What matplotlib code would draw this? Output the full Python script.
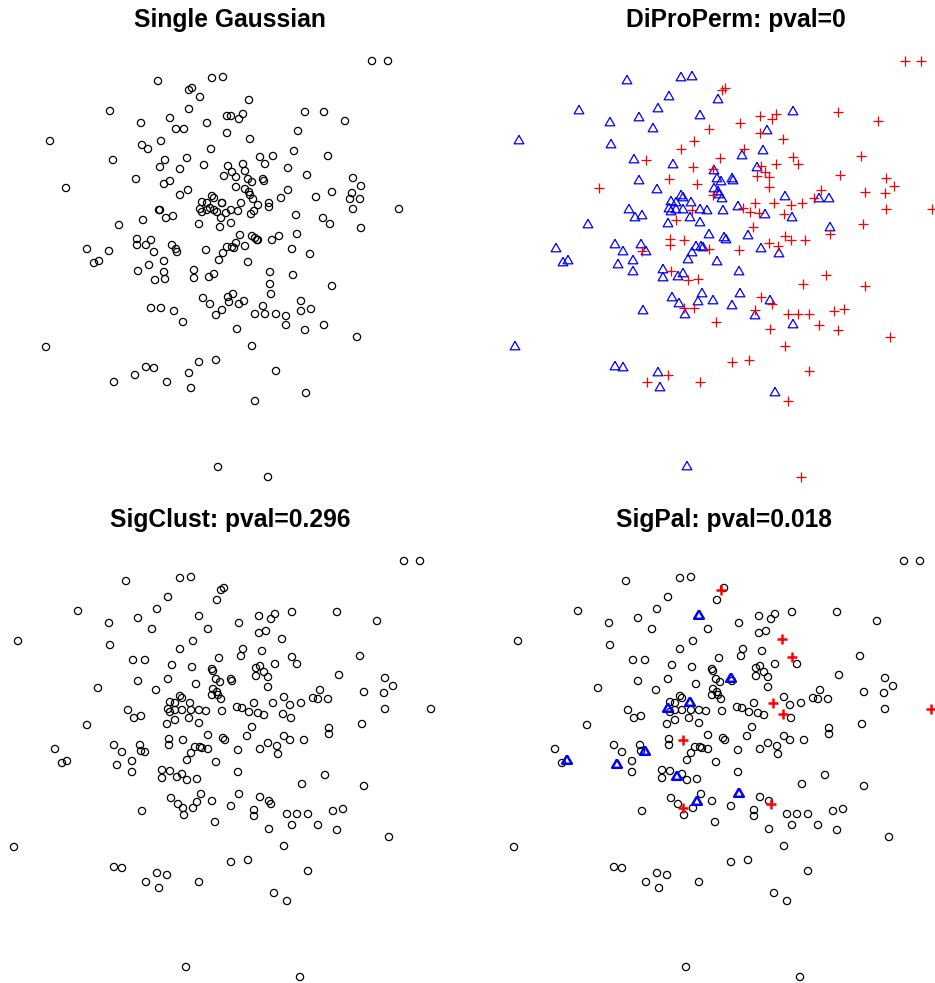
"""Four-panel scatter: Single Gaussian / DiProPerm / SigClust / SigPal."""

import matplotlib
matplotlib.use("Agg")
import matplotlib.pyplot as plt
import numpy as np

W, H = 935, 983

# projected coordinates (shared by DiProPerm, SigClust and SigPal panels)
pc_x = [-96, -144, -113, -84, -204, -112, -89, -77, -84, -124,
        -94, -88, -81, -135, -167, -108, -100, -82, -81, -77,
        -160, -155, -105, -90, -90, -80, -208, -108, -100, -76,
        -42, -31, -1, 2, -54, -5, -65, -23, 17, 37,
        49, 53, 70, -70, -14, 37, 44, 60, -29, -42,
        21, 19, 40, -3, 70, 75, -50, -30, -10, -9,
        53, 34, 38, 42, 34, 46, -6, -2, -54, -66,
        -26, 46, 9, 10, -9, -5, -10, -4, -1, -42,
        -40, -52, -47, -54, -52, -47, -40, -32, -31, -23,
        -16, 0, -47, -55, -33, -23, -14, -53, -53, -39,
        -27, -22, -20, -14, 1, 3, -31, -35, -6, 62,
        51, 79, 68, 61, 69, 15, 20, 27, 32, 36,
        42, 30, 25, 16, 38, 46, 55, 56, 62, 68,
        82, -60, -52, -60, -45, -40, -35, -25, 16, -51,
        -44, -39, -38, -29, -25, -21, -10, 9, 17, -7,
        32, 32, 38, 47, 49, 65, 75, 86, 47, 70,
        62, 9, 26, -65, -55, -63, -23, 52, 65, -36,
        78, 80, 103, 142, 111, 121, 96, 115, 167, 86,
        182, 198, 115, 155, 138, 117, 163, 171, 162, 142,
        98, 91, 96, 106, 163, 209, 140, 107, 107]
pc_y = [187, 157, 145, 150, 127, 123, 108, 108, 87, 80,
        58, 50, 52, 43, 19, 23, 16, 23, 17, 16,
        5, 7, 3, 7, -4, -43, -79, -99, -100, -114,
        190, 191, 178, 180, 171, 168, 159, 152, 145, 152,
        149, 154, 156, 139, 139, 135, 137, 129, 127, 119,
        119, 112, 117, 110, 111, 104, 103, 101, 99, 97,
        104, 100, 102, 96, 92, 91, 89, 86, 89, 78,
        84, 81, 89, 87, 79, 76, 73, 73, 69, 72,
        70, 66, 65, 59, 56, 58, 58, 65, 58, 58,
        57, 57, 48, 44, 50, 45, 33, 29, 23, 28,
        21, 21, 20, 19, 30, 28, 15, 8, 6, 71,
        65, 65, 63, 54, 50, 61, 60, 56, 65, 55,
        53, 41, 32, 18, 19, 25, 22, 14, 32, 28,
        28, -2, -3, -10, -9, -6, -12, -11, -4, -30,
        -36, -40, -47, -40, -34, -26, -33, -38, -26, -54,
        -42, -48, -29, -33, -36, -46, -46, -46, -61, -57,
        -78, -94, -92, -105, -107, -120, -114, -125, -133, -199,
        -209, -16, -7, -18, -43, -41, -57, -62, -69, -103,
        207, 207, 156, 147, 112, 93, 90, 82, 75, 76,
        78, 70, 69, 69, 59, 59, 44, 40, 34]
# DiProPerm class of each point: B = class 1 (triangle), R = class 2 (plus)
groups = ("BBBBBBBRBR" "BBBBBBBBRB" "BBBBBBBBBR" "BBRRBBBBRR" "RRBBRRBRRR"
          "RBBRRRBRRB" "RBRRRRBBRB" "RRBBBBRBBB" "BBBBBBBBRB" "BBRBBBBRRR"
          "BBBRBBBBBB" "RRRRBBRRRR" "BRBRBRRBRR" "RBRBBBRRBB" "BRBRBBBBBR"
          "RBRBRRRRRB" "RRRBRBRBRB" "RRRRRRRRRR" "RRRRRRRRRR" "RRBBRRRBR")
# half the gap between class means along the first coordinate;
# the "Single Gaussian" panel shows the data before that offset
class_shift = 32

# SigPal: points singled out for each side
pal_red = [32, 47, 54, 110, 113, 195, 99, 141, 154]
pal_blue = [37, 72, 87, 83, 21, 22, 19, 134, 148, 144]

titles = ["Single Gaussian", "DiProPerm: pval=0",
          "SigClust: pval=0.296", "SigPal: pval=0.018"]

R_PX = 3.6
PT = 72 / 100
S_CIRCLE = (2 * R_PX * PT) ** 2
S_TRI = (2 * 1.555 * R_PX * PT) ** 2
S_PLUS = (2 * 1.414 * R_PX * PT) ** 2
TRI = [(0, 1.555), (1.347, -0.778), (-1.347, -0.778), (0, 1.555)]
LW = 0.9
BLUE = "#0000FF"
RED = "#FF0000"


def add_panel(fig, box, ox, oy):
    left, top, right, bottom = box
    ax = fig.add_axes([left / W, 1 - bottom / H, (right - left) / W, (bottom - top) / H])
    ax.set_xlim(left - ox, right - ox)
    ax.set_ylim(oy - bottom, oy - top)
    ax.axis("off")
    return ax


def circles(ax, x, y):
    ax.scatter(x, y, s=S_CIRCLE, facecolors="none", edgecolors="black",
               linewidths=LW, clip_on=False)


x = np.array(pc_x, dtype=float)
y = np.array(pc_y, dtype=float)
g = np.array(list(groups))
blue = g == "B"
raw_x = np.where(blue, x + class_shift, x - class_shift)

fig = plt.figure(figsize=(W / 100, H / 100), dpi=100)
fig.patch.set_facecolor("white")

ax1 = add_panel(fig, (0, 45, 445, 490), 222, 268)
circles(ax1, raw_x, y)

ax2 = add_panel(fig, (480, 45, 935, 490), 723, 268)
ax2.scatter(x[blue], y[blue], s=S_TRI, marker=TRI, facecolors="none",
            edgecolors=BLUE, linewidths=LW, clip_on=False)
ax2.scatter(x[~blue], y[~blue], s=S_PLUS, marker="+", color=RED,
            linewidths=LW, clip_on=False)

ax3 = add_panel(fig, (0, 545, 445, 983), 222, 768)
circles(ax3, x, y)

ax4 = add_panel(fig, (480, 545, 935, 983), 722, 768)
rest = np.ones(len(x), dtype=bool)
rest[pal_red] = False
rest[pal_blue] = False
circles(ax4, x[rest], y[rest])
ax4.scatter(x[pal_blue], y[pal_blue], s=S_TRI, marker=TRI, facecolors="none",
            edgecolors=BLUE, linewidths=2 * LW, clip_on=False)
ax4.scatter(x[pal_red], y[pal_red], s=S_PLUS, marker="+", color=RED,
            linewidths=2 * LW, clip_on=False)

title_pos = [(230, 27), (736, 27), (230, 527), (724, 527)]
for (tx, ty), t in zip(title_pos, titles):
    fig.text(tx / W, 1 - ty / H, t, ha="center", va="baseline",
             fontsize=17.7, fontweight="bold", family=["Liberation Sans", "DejaVu Sans"])

fig.savefig("out.png", dpi=100)
